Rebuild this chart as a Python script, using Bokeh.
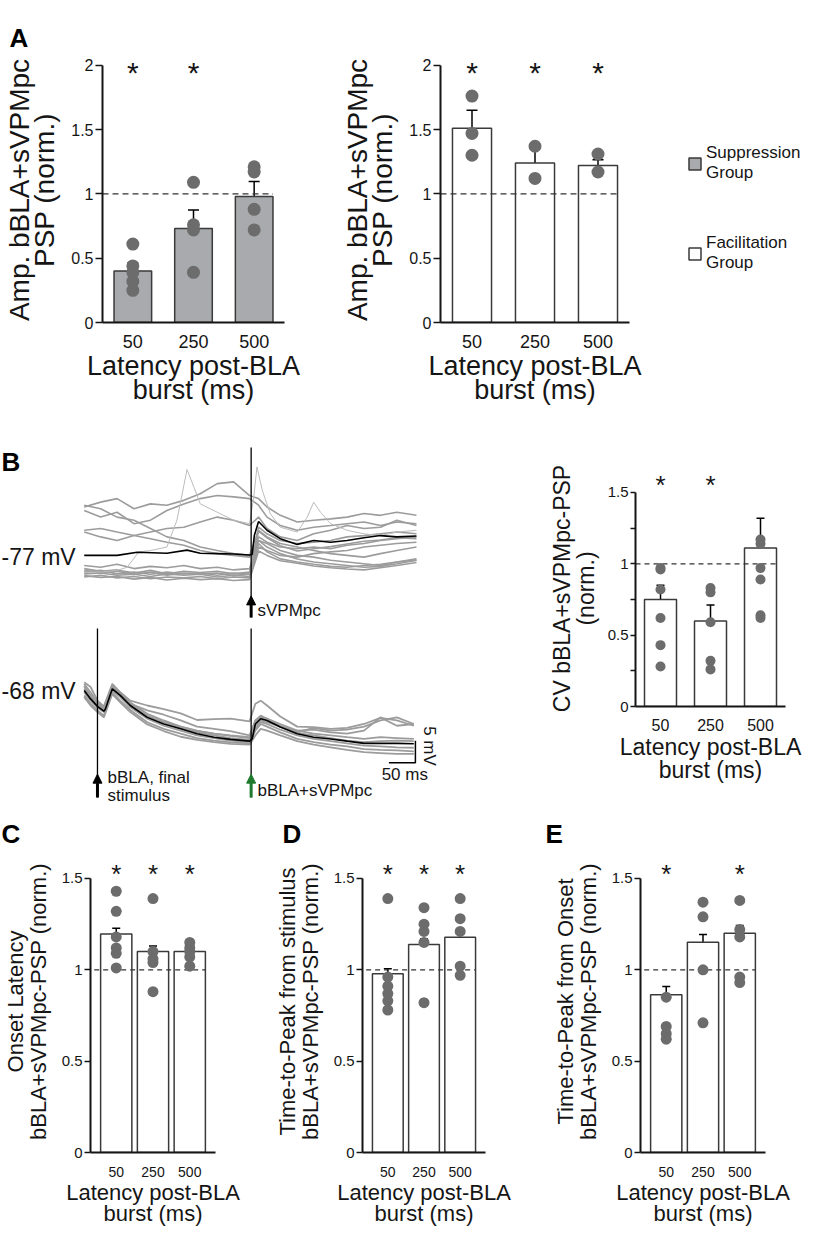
from math import pi
from bokeh.plotting import figure
from bokeh.models import (ColumnDataSource, FactorRange, Range1d, Whisker, TeeHead,
                          Legend, LegendItem, FixedTicker, Arrow, NormalHead, NumeralTickFormatter)
from bokeh.transform import dodge
from bokeh.layouts import row, column
from bokeh.embed import file_html
from bokeh.resources import INLINE
from bokeh.core.properties import value

FONT = "Liberation Sans"
LATENCIES = ["50", "250", "500"]
REF_LEVEL = 1.0

# ---------------- Panel A : amplitude (norm.) ----------------
supp_mean = [0.40, 0.73, 0.98]
supp_sem = [0.063, 0.145, 0.117]
supp_pts = [[0.61, 0.44, 0.39, 0.32, 0.25], [1.09, 0.76, 0.72, 0.39], [1.21, 1.17, 0.88, 0.72]]
supp_sig = [True, True, False]

fac_mean = [1.51, 1.24, 1.22]
fac_sem = [0.14, 0.13, 0.045]
fac_pts = [[1.76, 1.47, 1.30], [1.37, 1.12], [1.31, 1.17]]
fac_sig = [True, True, True]

# ---------------- Panel B : CV (norm.) ----------------
cv_mean = [0.75, 0.60, 1.11]
cv_sem = [0.10, 0.112, 0.21]
cv_pts = [[0.97, 0.96, 0.82, 0.62, 0.43, 0.28], [0.83, 0.80, 0.59, 0.32, 0.26],
          [1.17, 1.14, 0.97, 0.89, 0.64, 0.62]]
cv_sig = [True, True, False]

# ---------------- Panel C : onset latency ----------------
onset_mean = [1.196, 1.10, 1.10]
onset_sem = [0.032, 0.03, 0.018]
onset_pts = [[1.43, 1.32, 1.18, 1.12, 1.09, 1.01], [1.39, 1.10, 1.06, 1.04, 0.88],
             [1.15, 1.12, 1.10, 1.07, 1.02]]
onset_sig = [True, True, True]

# ---------------- Panel D : time-to-peak from stimulus ----------------
ttps_mean = [0.978, 1.138, 1.178]
ttps_sem = [0.028, 0.032, 0.028]
ttps_pts = [[1.39, 0.96, 0.91, 0.87, 0.83, 0.78], [1.34, 1.25, 1.21, 1.15, 0.82],
            [1.39, 1.28, 1.21, 1.02, 0.97]]
ttps_sig = [True, True, True]

# ---------------- Panel E : time-to-peak from onset ----------------
ttpo_mean = [0.863, 1.151, 1.20]
ttpo_sem = [0.046, 0.042, 0.043]
ttpo_pts = [[0.85, 0.69, 0.65, 0.62], [1.37, 1.29, 1.00, 0.71], [1.38, 1.22, 1.18, 0.96, 0.93]]
ttpo_sig = [True, False, True]

# ---------------- Panel B traces (ms, mV) ----------------
STIM_BBLA = 0
STIM_SVPMPC = 290
SCALE_MS = 50
SCALE_MV = 5

top_t = [-25, 6, 37, 69, 100, 131, 163, 194, 226, 257, 287, 304, 320, 345, 377, 408, 440, 471, 503, 534, 565, 602]
top_traces = [
    [-66.0, -64.9, -64.1, -66.4, -65.3, -65.6, -64.5, -63.0, -60.7, -60.3, -63.4, -64.1, -66.0, -67.9, -69.4, -69.0, -68.7, -68.3, -67.5, -67.9, -67.2, -67.9],
    [-66.8, -68.3, -67.2, -69.8, -69.0, -66.8, -65.3, -64.1, -63.4, -63.7, -64.1, -65.6, -68.3, -70.2, -71.3, -70.6, -70.2, -69.8, -69.4, -70.2, -69.4, -69.8],
    [-71.3, -70.9, -71.7, -72.5, -73.2, -74.0, -74.7, -75.9, -76.6, -77.0, -77.4, -73.6, -74.3, -75.9, -77.0, -77.4, -78.1, -78.5, -78.9, -79.3, -78.5, -78.1],
    [-71.7, -72.8, -73.6, -72.5, -71.7, -70.9, -70.6, -69.4, -68.3, -69.0, -70.2, -68.3, -70.9, -72.8, -73.6, -72.1, -71.3, -70.2, -70.9, -70.6, -69.0, -70.2],
    [-65.6, -66.4, -68.3, -69.0, -70.9, -72.8, -73.6, -75.1, -75.9, -76.6, -77.0, -71.3, -72.8, -74.3, -75.1, -75.9, -76.6, -77.0, -77.4, -76.6, -75.9, -75.1],
    [-79.3, -79.7, -79.0, -80.0, -79.5, -79.8, -79.3, -80.0, -79.7, -80.3, -80.0, -73.6, -75.1, -76.6, -77.8, -78.5, -78.9, -79.3, -79.7, -79.5, -78.9, -78.1],
    [-80.8, -80.4, -81.2, -80.8, -81.3, -80.8, -81.2, -81.0, -81.5, -81.0, -81.3, -72.8, -74.0, -75.1, -75.5, -75.1, -75.5, -74.7, -74.3, -73.6, -73.2, -72.8],
    [-81.9, -81.5, -82.1, -81.8, -82.3, -81.9, -82.1, -81.8, -82.3, -81.9, -82.1, -75.1, -75.9, -77.0, -77.4, -76.6, -76.2, -75.9, -75.1, -74.7, -74.3, -74.0],
    [-80.0, -80.6, -80.3, -81.0, -80.4, -81.2, -80.6, -80.9, -80.6, -81.2, -80.8, -70.6, -72.1, -73.6, -74.3, -74.0, -73.6, -72.8, -72.5, -72.1, -71.7, -72.1],
    [-81.2, -81.0, -81.5, -81.3, -81.8, -81.2, -81.5, -81.3, -81.9, -81.5, -81.8, -74.3, -76.2, -77.8, -78.5, -79.0, -79.5, -79.7, -79.3, -79.0, -78.5, -77.8],
    [-80.4, -80.9, -80.6, -81.3, -80.8, -81.5, -81.0, -81.2, -81.0, -81.6, -81.2, -71.5, -73.0, -74.8, -76.0, -75.5, -75.0, -74.4, -73.8, -73.5, -73.0, -73.2],
    [-81.6, -82.0, -81.8, -82.4, -82.0, -82.6, -82.2, -82.5, -82.3, -82.7, -82.5, -76.0, -77.0, -78.2, -78.8, -79.4, -79.8, -80.1, -80.3, -79.8, -79.3, -78.6],
]
spike_t = [-25, 6, 37, 56, 78, 100, 131, 150, 169, 182, 194, 226, 257, 287, 295, 301, 311, 326, 345, 377, 396, 408, 421, 440, 471, 503, 534, 565, 602]
spike_v = [-80.8, -80.8, -80.4, -79.7, -76.2, -75.9, -75.1, -69.0, -57.5, -61.5, -65.3, -67.2, -69.0, -69.8, -63.7, -56.9, -62.2, -67.5, -70.6, -71.7, -68.3, -64.9, -67.2, -69.8, -71.3, -72.1, -72.5, -71.7, -71.3]
top_mean_t = [-25, 37, 75, 131, 169, 194, 226, 257, 287, 292, 296, 304, 320, 345, 377, 408, 440, 471, 503, 534, 565, 602]
top_mean_v = [-77.0, -77.0, -76.3, -76.5, -75.8, -76.5, -76.6, -76.7, -76.9, -76.8, -72.5, -69.3, -71.3, -73.2, -74.5, -73.6, -74.0, -73.6, -73.0, -72.5, -72.8, -72.6]

bot_t = [-25, -13, 0, 12, 28, 43, 62, 94, 125, 157, 188, 220, 251, 287, 298, 308, 320, 345, 377, 408, 440, 471, 503, 534, 565, 597]
bot_traces = [
    [-67.2, -69.1, -71.0, -72.2, -67.2, -68.4, -70.3, -71.4, -72.2, -73.2, -74.7, -74.5, -74.4, -75.0, -71.0, -70.3, -71.4, -73.9, -76.2, -76.3, -76.7, -76.5, -75.6, -74.2, -74.8, -76.0],
    [-66.5, -68.4, -70.7, -71.9, -66.9, -68.8, -71.0, -72.5, -73.5, -74.8, -76.2, -76.7, -77.2, -78.2, -74.8, -73.9, -74.4, -76.0, -77.5, -76.5, -77.1, -76.9, -76.2, -74.8, -74.1, -75.6],
    [-66.1, -67.2, -70.3, -71.6, -66.5, -68.4, -70.7, -73.3, -74.8, -76.2, -77.1, -77.8, -78.2, -78.6, -74.8, -73.7, -74.4, -75.6, -77.1, -77.8, -78.2, -78.6, -79.0, -78.6, -78.8, -79.0],
    [-69.1, -71.0, -72.5, -73.7, -68.4, -70.3, -72.4, -75.2, -76.7, -77.8, -78.8, -79.4, -79.8, -80.0, -77.1, -75.6, -76.2, -77.5, -79.0, -79.7, -80.3, -80.7, -81.3, -81.5, -81.6, -81.8],
    [-66.9, -69.1, -71.0, -72.2, -67.2, -68.8, -71.0, -73.7, -75.2, -76.5, -77.5, -78.2, -78.8, -79.2, -76.0, -74.8, -75.2, -76.2, -77.7, -78.2, -78.8, -79.4, -79.7, -79.5, -79.4, -79.5],
    [-69.5, -71.4, -72.9, -74.1, -68.8, -70.7, -72.9, -75.7, -77.2, -78.5, -79.2, -79.7, -80.1, -80.3, -78.2, -76.7, -77.1, -78.2, -79.5, -80.3, -80.9, -81.5, -82.0, -82.2, -82.4, -82.4],
    [-68.4, -70.3, -71.9, -72.9, -68.0, -69.5, -71.8, -74.4, -76.0, -77.1, -78.2, -78.8, -79.4, -79.7, -76.7, -75.2, -75.6, -76.9, -78.2, -79.0, -79.5, -80.0, -80.5, -80.7, -80.9, -81.0],
    [-67.6, -69.5, -71.4, -72.4, -67.6, -69.1, -71.2, -73.9, -75.2, -76.2, -77.2, -77.8, -78.3, -78.8, -75.2, -74.2, -74.7, -76.2, -77.1, -76.9, -77.5, -77.8, -77.1, -74.1, -76.0, -75.6],
]
bot_mean_t = [-25, -13, 0, 12, 15, 28, 43, 62, 94, 125, 157, 188, 220, 251, 287, 292, 298, 308, 320, 345, 377, 408, 440, 471, 503, 534, 565, 597]
bot_mean_v = [-68.0, -69.9, -71.6, -72.7, -72.2, -67.6, -69.1, -71.4, -74.1, -75.6, -76.7, -77.8, -78.6, -79.1, -79.5, -79.0, -75.6, -74.4, -74.8, -76.3, -77.8, -78.6, -79.0, -79.5, -80.0, -80.0, -80.0, -80.1]

# ---------------- styling ----------------
GRAY_FILL = "#a8aaad"
WHITE_FILL = "#ffffff"
EDGE = "#3a3a3a"
DOT = "#6c6c6c"
INK = "#151515"
TRACE = "#9c9c9c"


def base_fig(**kw):
    p = figure(output_backend="svg", toolbar_location=None, **kw)
    try:
        p.frame_align = False
    except Exception:
        pass
    p.outline_line_color = None
    p.background_fill_color = "white"
    p.border_fill_color = "white"
    p.grid.visible = False
    return p


def set_letter(p, text, offset, standoff):
    p.title.text = text
    p.title.align = "left"
    p.title.offset = offset
    p.title.standoff = standoff
    p.title.text_font = FONT
    p.title.text_font_size = "26px"
    p.title.text_font_style = "bold"
    p.title.text_color = "black"


def style_axis(ax, width, lh):
    ax.axis_line_color = INK
    ax.axis_line_width = width
    ax.major_label_text_font = FONT
    ax.major_label_text_color = INK
    ax.axis_label_text_font = FONT
    ax.axis_label_text_font_style = "normal"
    ax.axis_label_text_color = INK
    ax.axis_label_text_line_height = lh


def bar_panel(means, sems, pts, sig, fill, *, width, height, borders, ymax, axis_top, ticks,
              minor=(), pad=0.0, bar_w=0.62, dot_size=12, cap=10, ast_y=1.9, ast_fs="28px",
              ytick_fs="15px", xtick_fs="18px", ylabel="", ylabel_fs="23px", ylabel_standoff=10,
              ylabel_lh=0.9, xlabel="Latency post-BLA\nburst (ms)", xlabel_fs="24px",
              xlabel_lh=0.9, xtick_standoff=8, xlabel_standoff=0, dash="6 4", axis_w=2, tick_out=6):
    bl, br, bt, bb = borders
    p = base_fig(width=width, height=height,
                 x_range=FactorRange(factors=LATENCIES, range_padding=pad, range_padding_units="absolute"),
                 y_range=Range1d(0, ymax),
                 min_border_left=bl, min_border_right=br, min_border_top=bt, min_border_bottom=bb)

    src = ColumnDataSource(dict(cat=LATENCIES, mean=means,
                                upper=[m + s for m, s in zip(means, sems)],
                                lower=[m - s for m, s in zip(means, sems)]))
    bars = p.vbar(x="cat", top="mean", width=bar_w, source=src, fill_color=fill,
                  line_color=EDGE, line_width=1.5)

    ref = ColumnDataSource(dict(c0=[LATENCIES[0]], c1=[LATENCIES[-1]], y=[REF_LEVEL]))
    p.segment(x0=dodge("c0", -0.5 - pad / 2, range=p.x_range), y0="y",
              x1=dodge("c1", bar_w / 2, range=p.x_range), y1="y", source=ref,
              line_color="#333333", line_width=1.3, line_dash=dash)

    dx = [c for c, vals in zip(LATENCIES, pts) for _ in vals]
    dy = [v for vals in pts for v in vals]
    p.scatter(x=dx, y=dy, size=dot_size, fill_color=DOT, line_color=None)

    p.add_layout(Whisker(base="cat", upper="upper", lower="lower", source=src,
                         line_color="black", line_width=1.5,
                         upper_head=TeeHead(size=cap, line_width=1.5, line_color="black"),
                         lower_head=TeeHead(size=cap, line_width=1.5, line_color="black")))

    sx = [c for c, s in zip(LATENCIES, sig) if s]
    p.text(x=sx, y=[ast_y] * len(sx), text=["*"] * len(sx), text_align="center",
           text_baseline="middle", text_font=value(FONT), text_font_size=ast_fs, text_color=INK)

    yax = p.yaxis[0]
    style_axis(yax, axis_w, ylabel_lh)
    yax.bounds = (0, axis_top)
    yax.ticker = FixedTicker(ticks=list(ticks), minor_ticks=list(minor))
    yax.formatter = NumeralTickFormatter(format="0.[0]")
    yax.major_tick_out = tick_out
    yax.major_tick_in = 0
    yax.minor_tick_out = tick_out
    yax.minor_tick_in = 0
    yax.major_tick_line_width = 1.5
    yax.minor_tick_line_width = 1.5
    yax.major_tick_line_color = INK
    yax.minor_tick_line_color = INK
    yax.major_label_text_font_size = ytick_fs
    yax.major_label_standoff = 2
    yax.axis_label = ylabel
    yax.axis_label_text_font_size = ylabel_fs
    yax.axis_label_standoff = ylabel_standoff

    xax = p.xaxis[0]
    style_axis(xax, axis_w, xlabel_lh)
    xax.major_tick_line_color = None
    xax.minor_tick_line_color = None
    xax.major_label_text_font_size = xtick_fs
    xax.major_label_standoff = xtick_standoff
    xax.axis_label = xlabel
    xax.axis_label_text_font_size = xlabel_fs
    xax.axis_label_standoff = xlabel_standoff
    return p, bars


A_TICKS = [0, 0.5, 1, 1.5, 2]
B_TICKS = [0, 0.5, 1, 1.5]
AMP_LABEL = "Amp. bBLA+sVPMpc\nPSP (norm.)"
a_common = dict(height=440, ymax=2.06, axis_top=2, ticks=A_TICKS, bar_w=0.62, dot_size=13, cap=11,
                ast_y=1.94, ast_fs="30px", ytick_fs="16px", xtick_fs="18px", ylabel=AMP_LABEL,
                ylabel_fs="28px", ylabel_lh=0.82, ylabel_standoff=8, xlabel_fs="27px",
                xlabel_lh=0.82, xtick_standoff=6, xlabel_standoff=0, tick_out=7)

pA1, _ = bar_panel(supp_mean, supp_sem, supp_pts, supp_sig, GRAY_FILL, width=337,
                   borders=(94, 53, 57, 118), **a_common)
set_letter(pA1, "A", -93, 10)

pA2, fac_bars = bar_panel(fac_mean, fac_sem, fac_pts, fac_sig, WHITE_FILL, width=332,
                          borders=(103, 40, 57, 118), **a_common)

# ---- legend figure (group swatches)
pL = base_fig(width=135, height=440, x_range=FactorRange(factors=LATENCIES), y_range=Range1d(0, 1),
              x_axis_location=None, y_axis_location=None,
              min_border_left=0, min_border_right=0, min_border_top=0, min_border_bottom=0)
sw_supp = pL.vbar(x=LATENCIES, top=supp_mean, width=0.6, fill_color=GRAY_FILL, line_color=EDGE,
                  line_width=1.5, visible=False)
sw_fac = pL.vbar(x=LATENCIES, top=fac_mean, width=0.6, fill_color=WHITE_FILL, line_color=EDGE,
                 line_width=1.5, visible=False)
legend = Legend(items=[LegendItem(label="Suppression\nGroup", renderers=[sw_supp]),
                       LegendItem(label="Facilitation\nGroup", renderers=[sw_fac])],
                location=(18, 167), glyph_width=15, glyph_height=15, spacing=50,
                label_text_font=FONT, label_text_font_size="17px", label_text_color=INK,
                label_text_line_height=0.95, label_standoff=4, padding=0, margin=0,
                border_line_color=None, background_fill_alpha=0)
pL.add_layout(legend)

# ---- traces figure (panel B left)
pB = base_fig(width=452, height=368, x_range=Range1d(-183, 670), y_range=Range1d(-134.5, -50.9),
              x_axis_location=None, y_axis_location=None,
              min_border_left=0, min_border_right=0, min_border_top=0, min_border_bottom=0)
pB.extra_y_ranges = {"evoked": Range1d(-94.8, -11.2)}

for tr in top_traces:
    pB.line(top_t, tr, line_color=TRACE, line_width=1.6)
pB.line(spike_t, spike_v, line_color="#bcbcbc", line_width=1.0)
pB.line(top_mean_t, top_mean_v, line_color="black", line_width=1.6)
for tr in bot_traces:
    pB.line(bot_t, tr, line_color=TRACE, line_width=1.8, y_range_name="evoked")
pB.line(bot_mean_t, bot_mean_v, line_color="black", line_width=1.6, y_range_name="evoked")

# stimulus markers
pB.segment(x0=[STIM_SVPMPC], y0=[-52.5], x1=[STIM_SVPMPC], y1=[-91.1], line_color="black", line_width=1.3)
pB.segment(x0=[STIM_BBLA, STIM_SVPMPC], y0=[-53.9, -53.9], x1=[STIM_BBLA, STIM_SVPMPC], y1=[-92.3, -92.3],
           line_color="black", line_width=1.3, y_range_name="evoked")
pB.add_layout(Arrow(end=NormalHead(size=9, fill_color="black", line_color="black"),
                    x_start=STIM_SVPMPC, y_start=-91.1, x_end=STIM_SVPMPC, y_end=-86.2,
                    line_color="black", line_width=3))
pB.add_layout(Arrow(end=NormalHead(size=9, fill_color="black", line_color="black"),
                    x_start=STIM_BBLA, y_start=-92.3, x_end=STIM_BBLA, y_end=-87.0,
                    line_color="black", line_width=3, y_range_name="evoked"))
pB.add_layout(Arrow(end=NormalHead(size=9, fill_color="#1f7a2e", line_color="#1f7a2e"),
                    x_start=STIM_SVPMPC, y_start=-92.3, x_end=STIM_SVPMPC, y_end=-87.0,
                    line_color="#1f7a2e", line_width=3, y_range_name="evoked"))

txt = dict(text_font=value(FONT), text_color=INK, text_baseline="middle")
pB.text(x=[-181], y=[-77.4], text=["-77 mV"], text_font_size="23px", **txt)
pB.text(x=[-181], y=[-68.0], text=["-68 mV"], text_font_size="23px", y_range_name="evoked", **txt)
pB.text(x=[302], y=[-89.5], text=["sVPMpc"], text_font_size="17px", **txt)
pB.text(x=[19], y=[-89.7], text=["bBLA, final\nstimulus"], text_font_size="17px",
        text_line_height=0.95, y_range_name="evoked", **txt)
pB.text(x=[302], y=[-90.7], text=["bBLA+sVPMpc"], text_font_size="17px", y_range_name="evoked", **txt)

# scale bar
sb_x = 600
sb_y = -84.4
pB.line([sb_x - SCALE_MS, sb_x, sb_x], [sb_y, sb_y, sb_y + SCALE_MV], line_color="black",
        line_width=1.5, y_range_name="evoked")
pB.text(x=[sb_x + 26], y=[sb_y + 3.8], text=["5 mV"], angle=-pi / 2, text_align="center",
        text_font_size="17px", y_range_name="evoked", **txt)
pB.text(x=[sb_x - 20], y=[sb_y - 2.6], text=["50 ms"], text_align="center",
        text_font_size="17px", y_range_name="evoked", **txt)
pB.text(x=[-181], y=[-55.7], text=["B"], text_font_size="26px", text_font_style="bold",
        text_font=value(FONT), text_color="black", text_baseline="alphabetic")

# ---- CV panel
pBr, _ = bar_panel(cv_mean, cv_sem, cv_pts, cv_sig, WHITE_FILL, width=352, height=368,
                   borders=(183, 19, 30, 102), ymax=1.654, axis_top=1.5, ticks=B_TICKS,
                   minor=[0.25, 0.75, 1.25], bar_w=0.64, dot_size=10, cap=8, ast_y=1.55,
                   ast_fs="26px", ytick_fs="15px", xtick_fs="16px",
                   ylabel="CV bBLA+sVPMpc-PSP\n(norm.)", ylabel_fs="23px", ylabel_standoff=6,
                   ylabel_lh=0.9, xlabel_fs="23px", xlabel_lh=0.9, xtick_standoff=6,
                   xlabel_standoff=0, dash="5 4", tick_out=5)

# ---- C, D, E
common = dict(height=422, ymax=1.653, axis_top=1.5, ticks=B_TICKS, pad=0.2, bar_w=0.85,
              dot_size=11, cap=8, ast_y=1.527, ast_fs="26px", ytick_fs="15px", xtick_fs="14px",
              ylabel_fs="22px", ylabel_lh=0.9, ylabel_standoff=8, xlabel_fs="22px", xlabel_lh=0.85,
              xtick_standoff=8, xlabel_standoff=0, dash="5 4", tick_out=6)
pC, _ = bar_panel(onset_mean, onset_sem, onset_pts, onset_sig, WHITE_FILL, width=272,
                  borders=(90, 57, 42, 78), ylabel="Onset Latency\nbBLA+sVPMpc-PSP (norm.)", **common)
set_letter(pC, "C", -89, 4)
pD, _ = bar_panel(ttps_mean, ttps_sem, ttps_pts, ttps_sig, WHITE_FILL, width=270,
                  borders=(87, 57, 42, 78),
                  ylabel="Time-to-Peak from stimulus\nbBLA+sVPMpc-PSP (norm.)", **common)
set_letter(pD, "D", -80, 4)
pE, _ = bar_panel(ttpo_mean, ttpo_sem, ttpo_pts, ttpo_sig, WHITE_FILL, width=262,
                  borders=(98, 39, 42, 78),
                  ylabel="Time-to-Peak from Onset\nbBLA+sVPMpc-PSP (norm.)", **common)
set_letter(pE, "E", -95, 4)

layout = column(row(pA1, pA2, pL), row(pB, pBr), row(pC, pD, pE))
open("out.html", "w").write(file_html(layout, INLINE))
